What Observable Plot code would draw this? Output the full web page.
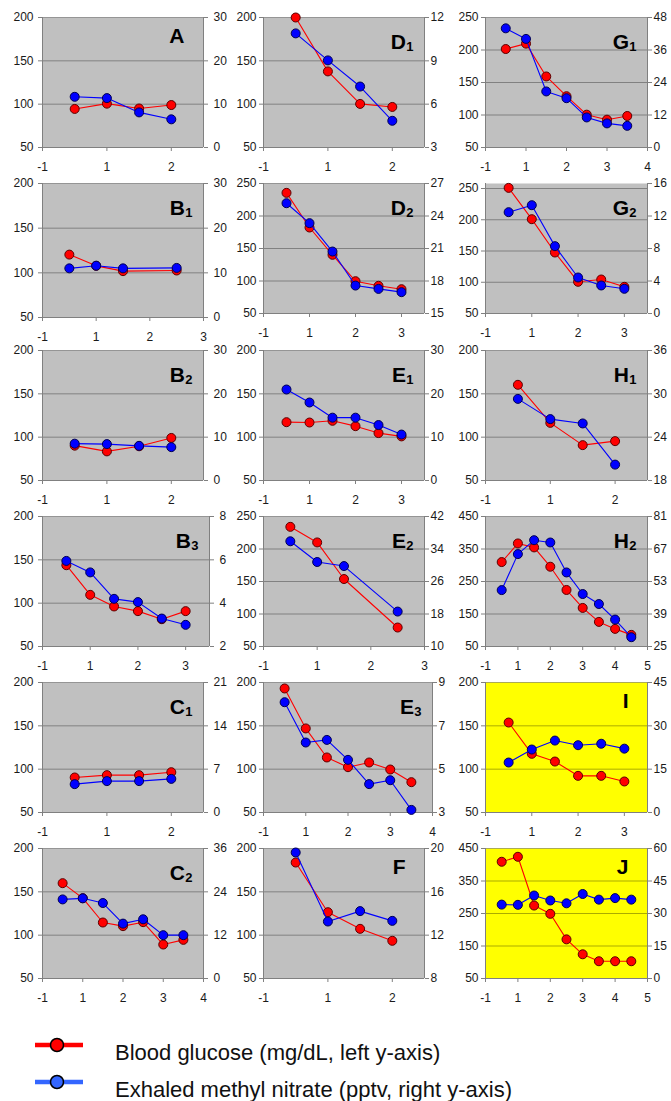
<!DOCTYPE html>
<html><head><meta charset="utf-8">
<script src="https://cdn.jsdelivr.net/npm/d3@7"></script>
<script src="https://cdn.jsdelivr.net/npm/@observablehq/plot@0.6"></script>
<style>
body{margin:0;background:#fff;font-family:"Liberation Sans",Arial,sans-serif;}
#wrap{position:relative;width:671px;height:1101px;overflow:hidden;}
#wrap .cell{position:absolute;}
#wrap .cell svg{overflow:visible;}
#legend{position:absolute;left:0;top:1025px;}
</style></head><body><div id="wrap"><div id="legend"></div></div>
<script>
// ---- axis tick labels ----
const xTickLabels = ["-1","1","2","3","4","5"];
const leftTicks200 = [50,100,150,200];
const leftTicks250 = [50,100,150,200,250];
const leftTicks450 = [50,150,250,350,450];

// ---- panel data: x = position on the time axis, glucose (mg/dL), nitrate (pptv) ----
const hoursA = [0.5,1,1.5,2];
const glucoseA = [94.5,100.6,95,99];
const nitrateA = [11.7,11.4,8.1,6.5];
const rightTicksA = [0,10,20,30];

const hoursB1 = [0.5,1,1.5,2.5];
const glucoseB1 = [120.4,107.8,101.9,102.6];
const nitrateB1 = [11.0,11.6,11.0,11.1];
const rightTicksB1 = [0,10,20,30];

const hoursB2 = [0.5,1,1.5,2];
const glucoseB2 = [90.2,83.6,89.5,99.1];
const nitrateB2 = [8.5,8.4,8.0,7.7];
const rightTicksB2 = [0,10,20,30];

const hoursB3 = [0.5,1,1.5,2,2.5,3];
const glucoseB3 = [143.8,109.6,96.2,90.8,81.5,90.8];
const nitrateB3 = [5.95,5.42,4.2,4.05,3.29,3.0];
const rightTicksB3 = [2,4,6,8];

const hoursC1 = [0.5,1,1.5,2];
const glucoseC1 = [90.4,93.1,93.1,96.5];
const nitrateC1 = [4.58,5.07,5.07,5.43];
const rightTicksC1 = [0,7,14,21];

const hoursC2 = [0.5,1,1.5,2,2.5,3,3.5];
const glucoseC2 = [160,142.7,114.6,110.4,115,89.2,94.6];
const nitrateC2 = [21.9,22.2,20.9,15.2,16.4,12,12];
const rightTicksC2 = [0,12,24,36];

const hoursD1 = [0.5,1,1.5,2];
const glucoseD1 = [200,137.8,100.3,96.8];
const nitrateD1 = [10.9,9.03,7.22,4.85];
const rightTicksD1 = [3,6,9,12];

const hoursD2 = [0.5,1,1.5,2,2.5,3];
const glucoseD2 = [235.6,182.3,140.3,99.7,92.6,87.4];
const nitrateD2 = [25.18,23.34,20.72,17.58,17.27,16.97];
const rightTicksD2 = [15,18,21,24,27];

const hoursE1 = [0.5,1,1.5,2,2.5,3];
const glucoseE1 = [117.3,116.9,118.9,112.7,104.7,100.9];
const nitrateE1 = [21.0,18.0,14.5,14.5,12.8,10.6];
const rightTicksE1 = [0,10,20,30];

const hoursE2 = [0.5,1,1.5,2.5];
const glucoseE2 = [234.1,210.1,153.8,79.2];
const nitrateE2 = [35.9,30.8,29.8,18.6];
const rightTicksE2 = [10,18,26,34,42];

const hoursE3 = [0.5,1,1.5,2,2.5,3,3.5];
const glucoseE3 = [193.1,147,113.5,102.3,107.7,99.6,85];
const nitrateE3 = [8.09,6.23,6.35,5.43,4.31,4.49,3.12];
const rightTicksE3 = [3,5,7,9];

const hoursF = [0.5,1,1.5,2];
const glucoseF = [183.8,126.5,107.3,93.5];
const nitrateF = [19.63,13.26,14.22,13.32];
const rightTicksF = [8,12,16,20];

const hoursG1 = [0.5,1,1.5,2,2.5,3,3.5];
const glucoseG1 = [201.5,209.8,159.3,128.9,100.5,92.8,98.5];
const nitrateG1 = [44.0,40.1,20.7,18.2,11.1,8.9,8.0];
const rightTicksG1 = [0,12,24,36,48];

const hoursG2 = [0.5,1,1.5,2,2.5,3];
const glucoseG2 = [251,200.9,147.6,100.7,104.4,92.7];
const nitrateG2 = [12.47,13.33,8.29,4.43,3.45,3.04];
const rightTicksG2 = [0,4,8,12,16];

const hoursH1 = [0.5,1,1.5,2];
const glucoseH1 = [160.4,116.5,90.8,95.4];
const nitrateH1 = [29.3,26.5,25.9,20.2];
const rightTicksH1 = [18,24,30,36];

const hoursH2 = [0.5,1,1.5,2,2.5,3,3.5,4,4.5];
const glucoseH2 = [309.8,367.1,354.9,295.5,223.9,168.7,125.7,104.2,85.8];
const nitrateH2 = [49.3,64.8,70.8,69.8,56.9,47.6,43.3,36.6,29.0];
const rightTicksH2 = [25,39,53,67,81];

const hoursI = [0.5,1,1.5,2,2.5,3];
const glucoseI = [153.8,117.7,108.8,92.3,92.3,85.8];
const nitrateI = [17.3,21.8,24.9,23.3,23.8,22.1];
const rightTicksI = [0,15,30,45];

const hoursJ = [0.5,1,1.5,2,2.5,3,3.5,4,4.5];
const glucoseJ = [409.2,424.5,274.5,249,170.4,124.5,103.1,103.1,103.1];
const nitrateJ = [34.1,34.0,38.3,36.0,34.7,39.0,36.4,37.1,36.4];
const rightTicksJ = [0,15,30,45,60];

// ---- panel table built from the arrays ----
const GRAY = "#c0c0c0", YELLOW = "#ffff00";
const panels = [
  {letter:"A", sub:"",  col:0,row:0,xMax:2.5,x:hoursA, g:glucoseA, n:nitrateA, left:[50,200],lt:leftTicks200,right:[0,30], rt:rightTicksA, bg:GRAY},
  {letter:"B", sub:"1", col:0,row:1,xMax:3,  x:hoursB1,g:glucoseB1,n:nitrateB1,left:[50,200],lt:leftTicks200,right:[0,30], rt:rightTicksB1,bg:GRAY, bottom:317},
  {letter:"B", sub:"2", col:0,row:2,xMax:2.5,x:hoursB2,g:glucoseB2,n:nitrateB2,left:[50,200],lt:leftTicks200,right:[0,30], rt:rightTicksB2,bg:GRAY},
  {letter:"B", sub:"3", col:0,row:3,xMax:3.5,x:hoursB3,g:glucoseB3,n:nitrateB3,left:[50,200],lt:leftTicks200,right:[2,8],  rt:rightTicksB3,bg:GRAY, pr:209},
  {letter:"C", sub:"1", col:0,row:4,xMax:2.5,x:hoursC1,g:glucoseC1,n:nitrateC1,left:[50,200],lt:leftTicks200,right:[0,21], rt:rightTicksC1,bg:GRAY},
  {letter:"C", sub:"2", col:0,row:5,xMax:4,  x:hoursC2,g:glucoseC2,n:nitrateC2,left:[50,200],lt:leftTicks200,right:[0,36], rt:rightTicksC2,bg:GRAY},
  {letter:"D", sub:"1", col:1,row:0,xMax:2.5,x:hoursD1,g:glucoseD1,n:nitrateD1,left:[50,200],lt:leftTicks200,right:[3,12], rt:rightTicksD1,bg:GRAY},
  {letter:"D", sub:"2", col:1,row:1,xMax:3.5,x:hoursD2,g:glucoseD2,n:nitrateD2,left:[50,250],lt:leftTicks250,right:[15,27],rt:rightTicksD2,bg:GRAY},
  {letter:"E", sub:"1", col:1,row:2,xMax:3.5,x:hoursE1,g:glucoseE1,n:nitrateE1,left:[50,200],lt:leftTicks200,right:[0,30], rt:rightTicksE1,bg:GRAY},
  {letter:"E", sub:"2", col:1,row:3,xMax:3,  x:hoursE2,g:glucoseE2,n:nitrateE2,left:[50,250],lt:leftTicks250,right:[10,42],rt:rightTicksE2,bg:GRAY},
  {letter:"E", sub:"3", col:1,row:4,xMax:4,  x:hoursE3,g:glucoseE3,n:nitrateE3,left:[50,200],lt:leftTicks200,right:[3,9],  rt:rightTicksE3,bg:GRAY, pr:432},
  {letter:"F", sub:"",  col:1,row:5,xMax:2.5,x:hoursF, g:glucoseF, n:nitrateF, left:[50,200],lt:leftTicks200,right:[8,20], rt:rightTicksF, bg:GRAY},
  {letter:"G", sub:"1", col:2,row:0,xMax:4,  x:hoursG1,g:glucoseG1,n:nitrateG1,left:[50,250],lt:leftTicks250,right:[0,48], rt:rightTicksG1,bg:GRAY},
  {letter:"G", sub:"2", col:2,row:1,xMax:3.5,x:hoursG2,g:glucoseG2,n:nitrateG2,left:[50,258],lt:leftTicks250,right:[0,16], rt:rightTicksG2,bg:GRAY},
  {letter:"H", sub:"1", col:2,row:2,xMax:2.5,x:hoursH1,g:glucoseH1,n:nitrateH1,left:[50,200],lt:leftTicks200,right:[18,36],rt:rightTicksH1,bg:GRAY},
  {letter:"H", sub:"2", col:2,row:3,xMax:5,  x:hoursH2,g:glucoseH2,n:nitrateH2,left:[50,450],lt:leftTicks450,right:[25,81],rt:rightTicksH2,bg:GRAY},
  {letter:"I", sub:"",  col:2,row:4,xMax:3.5,x:hoursI, g:glucoseI, n:nitrateI, left:[50,200],lt:leftTicks200,right:[0,45], rt:rightTicksI, bg:YELLOW},
  {letter:"J", sub:"",  col:2,row:5,xMax:5,  x:hoursJ, g:glucoseJ, n:nitrateJ, left:[50,450],lt:leftTicks450,right:[0,60], rt:rightTicksJ, bg:YELLOW}
];

// ---- layout ----
const colLeft = [0,222,444], colWidth = [230,226,227];
const plotLeft = [42,263,485], plotRight = [203,424,647];
const leftPad = [5,3,3], rightPad = [6,2,2];
const rowTop = [17,183,350,516,682,848];
const PLOT_H = 130, MT = 14, MB = 32;
const FONT = "'Liberation Sans', Arial, Helvetica, sans-serif";

const wrap = document.getElementById("wrap");

for (const p of panels) {
  const [L0,L1] = p.left, [R0,R1] = p.right;
  const toLeft = v => L0 + (v-R0)*(L1-L0)/(R1-R0);
  const toRight = v => R0 + (v-L0)*(R1-R0)/(L1-L0);
  const gl = p.x.map((x,i)=>({x, y:p.g[i]}));
  const nt = p.x.map((x,i)=>({x, y:toLeft(p.n[i])}));
  const xt = d3.range(0, Math.floor(p.xMax + 1e-9) + 1);
  const top = rowTop[p.row];
  const bottom = p.bottom ?? (top + PLOT_H);
  const pl = plotLeft[p.col], pr = p.pr ?? plotRight[p.col];
  const cl = colLeft[p.col], cw = colWidth[p.col];
  const H = MT + (bottom-top) + MB;
  const hasSub = p.sub !== "";
  const baseline = hasSub ? 31 : 25;

  const chart = Plot.plot({
    width: cw, height: H,
    marginLeft: pl - cl, marginRight: cl + cw - pr,
    marginTop: MT, marginBottom: MB,
    x: {domain:[0,p.xMax], axis:null},
    y: {domain:[L0,L1], axis:null},
    style: {fontFamily: FONT, fontSize: "12px", color: "#1a1a1a", background: "transparent", overflow: "visible"},
    marks: [
      Plot.frame({fill: p.bg, stroke: null}),
      Plot.ruleY(p.lt, {stroke: "#000", strokeOpacity: 0.33, strokeWidth: 1}),
      Plot.ruleX([0, p.xMax], {stroke: "#808080"}),
      Plot.ruleY([L0], {stroke: "#808080"}),
      Plot.axisY(p.lt, {anchor: "left", label: null, tickSize: 4, tickPadding: leftPad[p.col], tickFormat: d => String(d), fontSize: 12}),
      Plot.axisY(p.rt.map(toLeft), {anchor: "right", label: null, tickSize: 4, tickPadding: rightPad[p.col], tickFormat: d => String(Math.round(toRight(d))), fontSize: 12}),
      Plot.axisX(xt, {anchor: "bottom", label: null, tickSize: 4, tickPadding: 11, tickFormat: d => xTickLabels[d], fontSize: 12}),
      Plot.line(gl, {x: "x", y: "y", stroke: "#ff0000", strokeWidth: 1.1}),
      Plot.dot(gl, {x: "x", y: "y", r: 4.5, fill: "#ff0000", stroke: "#5a0000", strokeWidth: 1}),
      Plot.line(nt, {x: "x", y: "y", stroke: "#0000ff", strokeWidth: 1.1}),
      Plot.dot(nt, {x: "x", y: "y", r: 4.5, fill: "#0000ff", stroke: "#000050", strokeWidth: 1}),
      Plot.text([p.letter], {text: d => d, frameAnchor: "top-right", lineAnchor: "bottom", textAnchor: "end",
        dx: hasSub ? -18.5 : -19, dy: baseline, fontSize: 21, fontWeight: "bold", fill: "#000"}),
      hasSub ? Plot.text([p.sub], {text: d => d, frameAnchor: "top-right", lineAnchor: "bottom", textAnchor: "end",
        dx: -11, dy: baseline + 2, fontSize: 13, fontWeight: "bold", fill: "#000"}) : null
    ]
  });
  d3.select(chart).selectAll('[aria-label="y-axis tick"], [aria-label="x-axis tick"]').attr("stroke", "#808080");
  const cell = document.createElement("div");
  cell.className = "cell";
  cell.style.left = cl + "px";
  cell.style.top = (top - MT) + "px";
  cell.appendChild(chart);
  wrap.appendChild(cell);
}

// ---- legend ----
const legendItems = ["Blood glucose (mg/dL, left y-axis)", "Exhaled methyl nitrate (pptv, right y-axis)"];
const legendColors = ["#ff0000", "#3366ff"];
const lg = d3.select("#legend").append("svg").attr("width", 671).attr("height", 76)
  .style("font-family", FONT);
legendItems.forEach((t, i) => {
  const y = 20 + i * 37;
  const g = lg.append("g");
  g.append("line").attr("x1", 35).attr("x2", 83).attr("y1", y).attr("y2", y)
    .attr("stroke", legendColors[i]).attr("stroke-width", 4.5);
  g.append("circle").attr("cx", 57).attr("cy", y).attr("r", 6.5)
    .attr("fill", legendColors[i]).attr("stroke", "#000").attr("stroke-width", 1.5);
  g.append("text").attr("x", 115).attr("y", y + 7.5).attr("dy", "0.35em")
    .attr("font-size", 22).attr("fill", "#111").text(t);
});
</script>
</body></html>
